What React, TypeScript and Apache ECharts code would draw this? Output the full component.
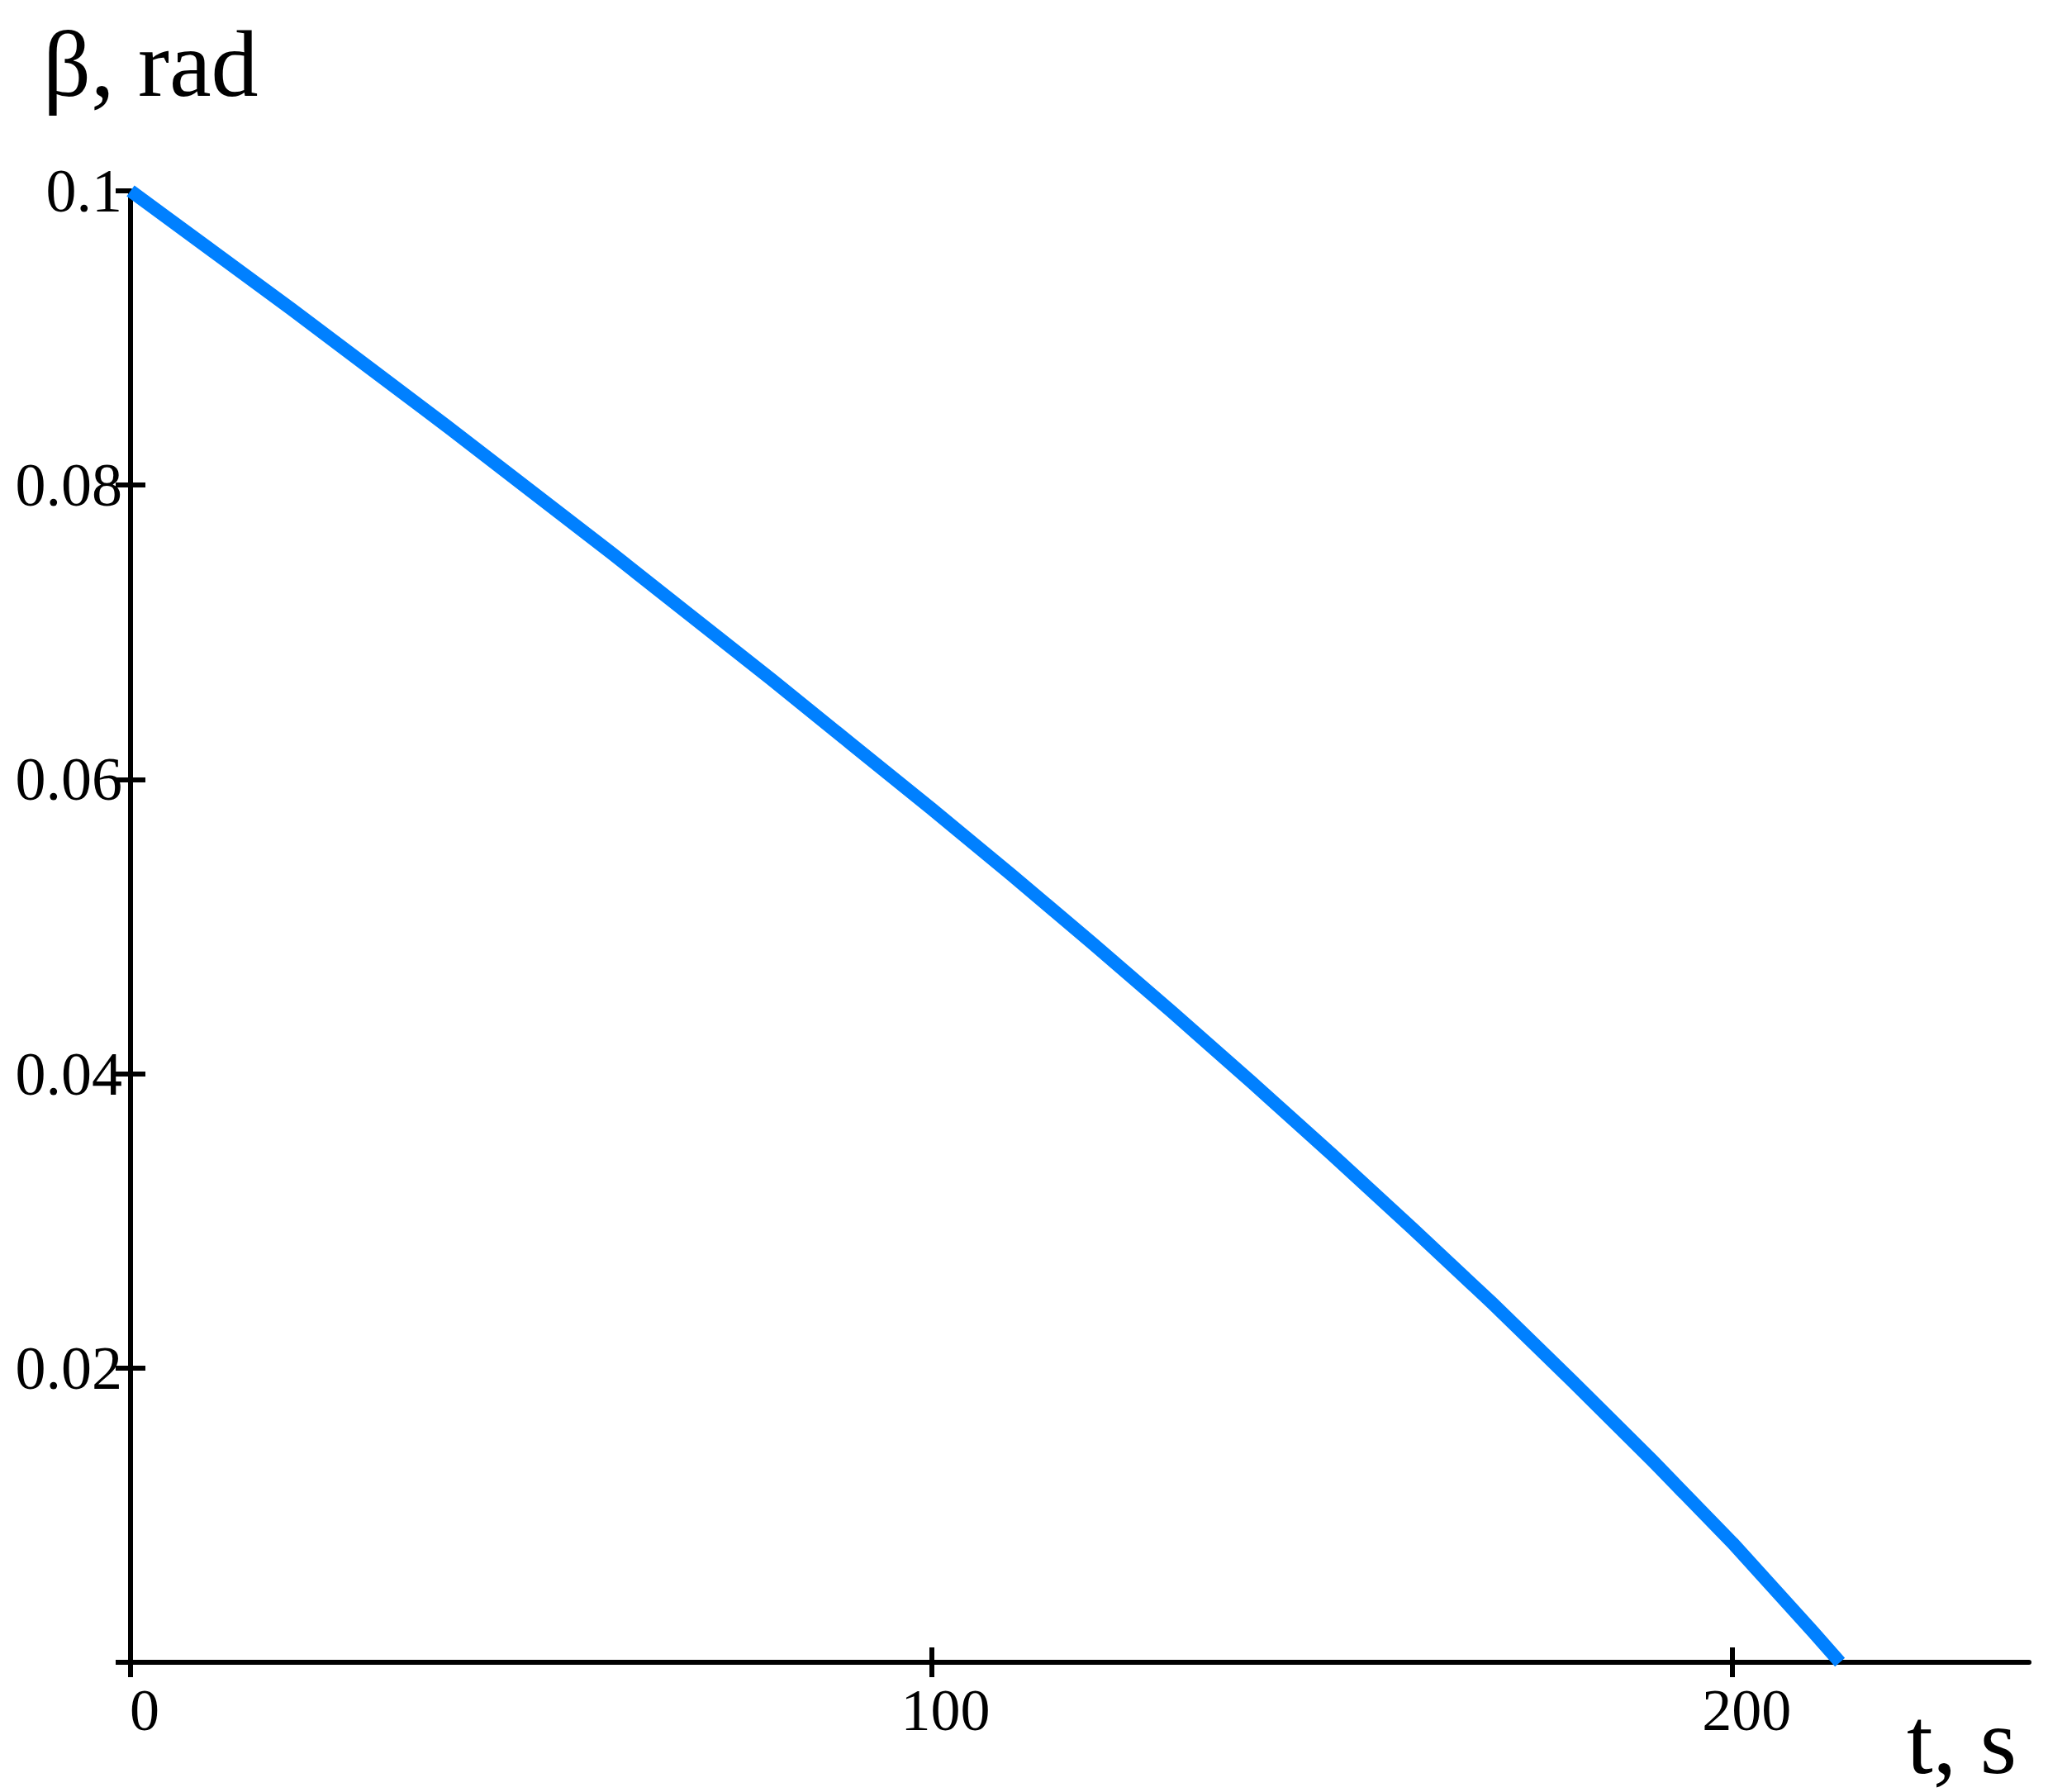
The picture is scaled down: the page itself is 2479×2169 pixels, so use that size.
import React, { useEffect, useRef } from "react";
import * as echarts from "echarts";

// time, s
const tValues = [0, 10, 20, 30, 40, 50, 60, 70, 80, 90, 100, 110, 120, 130, 140, 150, 160, 170, 180, 190, 200, 210, 213.4];
// beta, rad
const betaValues = [0.1, 0.096, 0.092, 0.0879, 0.0838, 0.0796, 0.0754, 0.0711, 0.0668, 0.0624, 0.058, 0.0535, 0.0489, 0.0442, 0.0394, 0.0345, 0.0295, 0.0244, 0.0191, 0.0137, 0.0081, 0.0021, 0];

const xTicks = [0, 100, 200];
const xTickLabels = ["0", "100", "200"];
const yTicks = [0, 0.02, 0.04, 0.06, 0.08, 0.1];
const yTickLabels = ["", "0.02", "0.04", "0.06", "0.08", "0.1"];

const xName = "t, s";
const yName = "β, rad";

const FONT = "Liberation Serif";

export default function App() {
  const ref = useRef<HTMLDivElement>(null);

  useEffect(() => {
    if (!ref.current) return;
    const chart = echarts.init(ref.current, undefined, { renderer: "svg" });
    const data = tValues.map((t, i) => [t, betaValues[i]]);
    const axisColor = "#000000";
    const tickStyle = { color: axisColor, width: 6 };

    chart.setOption({
      animation: false,
      backgroundColor: "#ffffff",
      grid: { left: 158, right: 23, top: 231, bottom: 157, containLabel: false },
      xAxis: [
        {
          type: "value",
          min: 0,
          max: 237,
          position: "bottom",
          axisLine: { show: true, onZero: false, lineStyle: { color: axisColor, width: 6 } },
          axisTick: { show: true, customValues: xTicks, length: 18, lineStyle: tickStyle },
          axisLabel: {
            customValues: xTicks,
            formatter: (v: number) => {
              const i = xTicks.indexOf(v);
              return i >= 0 ? xTickLabels[i] : "";
            },
            fontFamily: FONT,
            fontSize: 72,
            color: "#000",
            margin: 22,
            padding: [0, 0, 0, 34],
          },
          splitLine: { show: false },
        },
        {
          type: "value",
          min: 0,
          max: 237,
          position: "bottom",
          axisLine: { show: false },
          axisTick: { show: true, inside: true, customValues: [100, 200], length: 18, lineStyle: tickStyle },
          axisLabel: { show: false },
          splitLine: { show: false },
        },
      ],
      yAxis: [
        {
          type: "value",
          min: 0,
          max: 0.1,
          position: "left",
          axisLine: { show: true, onZero: false, lineStyle: { color: axisColor, width: 6 } },
          axisTick: { show: true, customValues: yTicks, length: 18, lineStyle: tickStyle },
          axisLabel: {
            customValues: yTicks,
            formatter: (v: number) => {
              let best = 0;
              for (let i = 0; i < yTicks.length; i++) {
                if (Math.abs(yTicks[i] - v) < Math.abs(yTicks[best] - v)) best = i;
              }
              return yTickLabels[best];
            },
            fontFamily: FONT,
            fontSize: 74,
            color: "#000",
            margin: 10,
          },
          splitLine: { show: false },
        },
        {
          type: "value",
          min: 0,
          max: 0.1,
          position: "left",
          axisLine: { show: false },
          axisTick: { show: true, inside: true, customValues: [0.02, 0.04, 0.06, 0.08], length: 18, lineStyle: tickStyle },
          axisLabel: { show: false },
          splitLine: { show: false },
        },
      ],
      graphic: [
        {
          type: "text",
          left: 52,
          top: 20,
          style: { text: yName, fontFamily: FONT, fontSize: 114, fill: "#000" },
        },
        {
          type: "text",
          left: 2308,
          top: 2050,
          style: { text: xName, fontFamily: FONT, fontSize: 114, fill: "#000" },
        },
      ],
      series: [
        {
          type: "line",
          data,
          xAxisIndex: 0,
          yAxisIndex: 0,
          showSymbol: false,
          smooth: false,
          clip: false,
          lineStyle: { color: "#0080ff", width: 16, join: "round" },
        },
      ],
    });

    return () => chart.dispose();
  }, []);

  return (
    <div
      ref={ref}
      style={{ position: "fixed", left: 0, top: 0, width: 2479, height: 2169, background: "#fff" }}
    />
  );
}
